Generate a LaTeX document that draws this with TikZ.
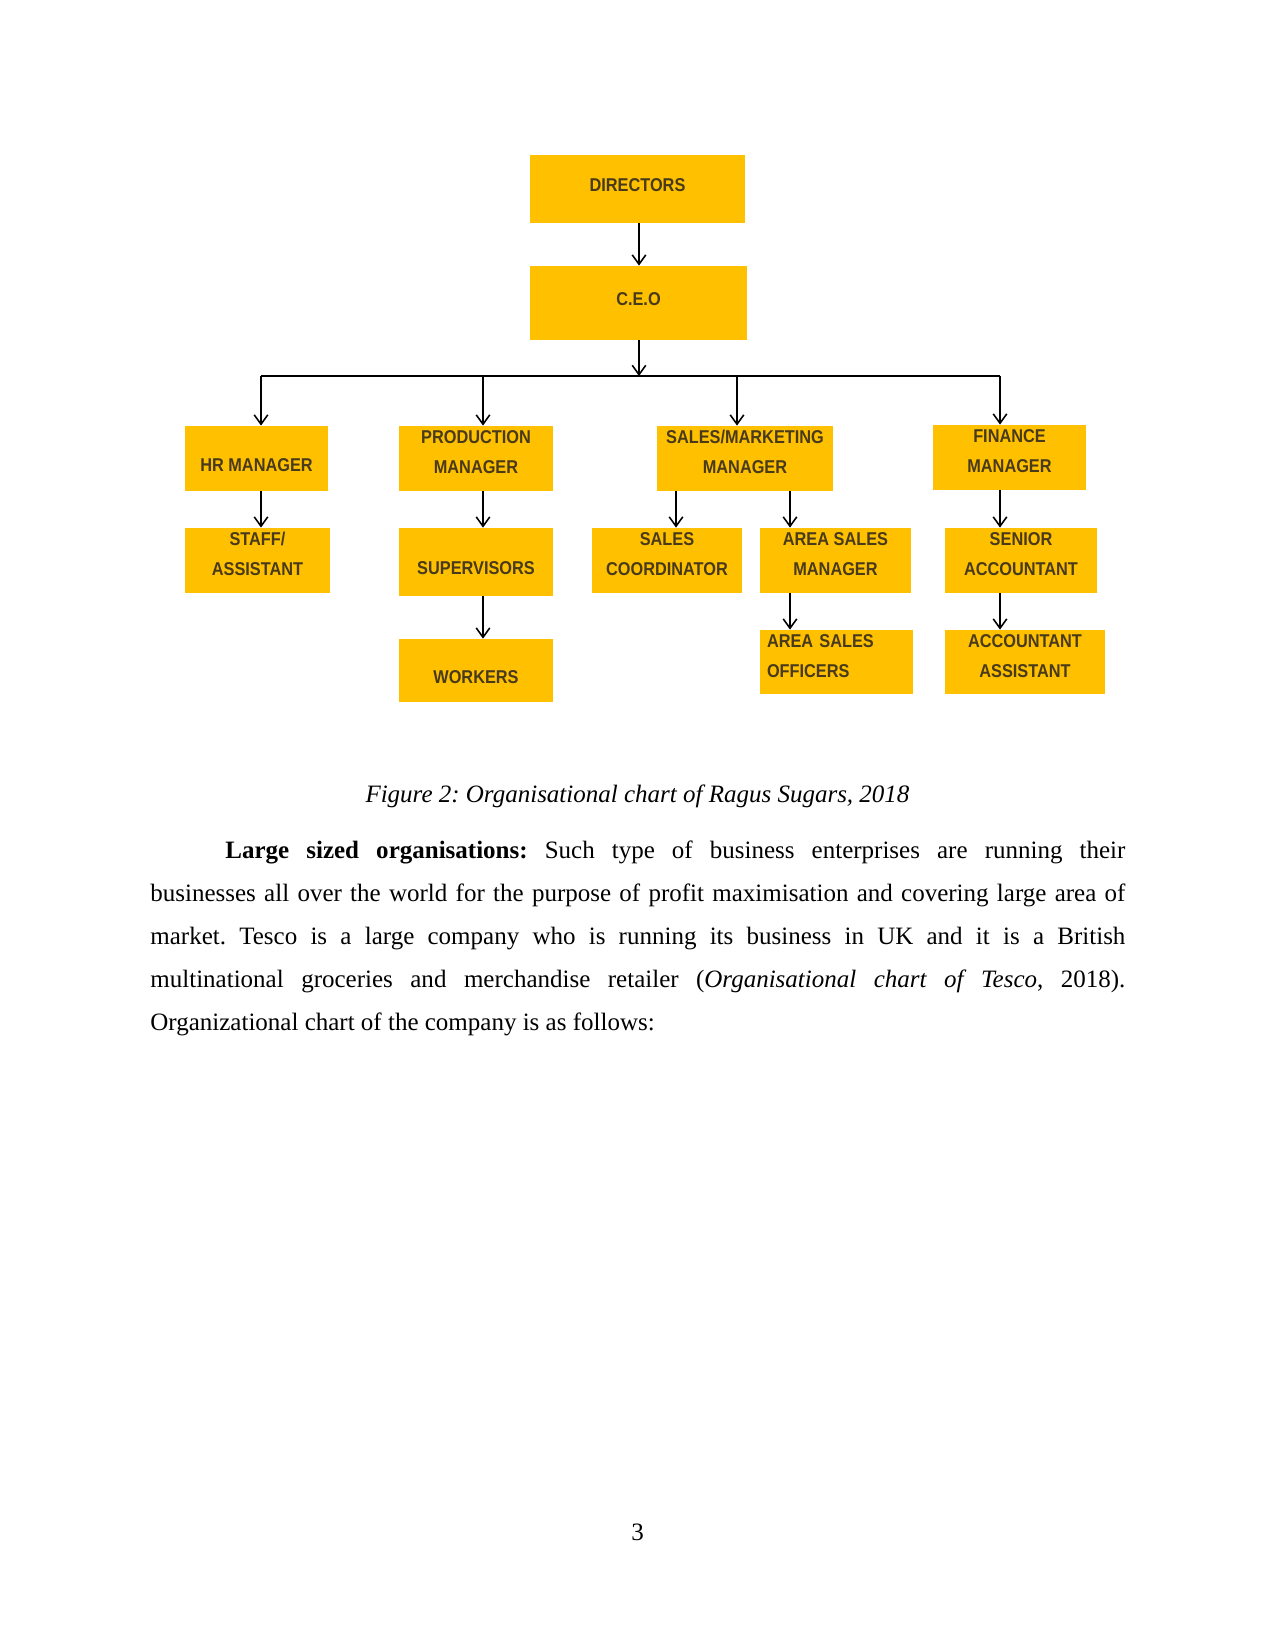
\documentclass[tikz,border=0pt]{standalone}
\usepackage{fontspec}
\setmainfont{Liberation Serif}
\newfontfamily\boxfont[FakeStretch=0.88]{Liberation Sans}
\usetikzlibrary{positioning, arrows.meta}
\definecolor{BoxYellow}{RGB}{255,192,0}
\definecolor{BoxText}{RGB}{72,58,26}
\frenchspacing

\begin{document}
\begin{tikzpicture}[x=0.48pt, y=-0.48pt,
    post/.style={fill=BoxYellow, text=BoxText, inner sep=0pt, align=center, text depth=6pt,
      font=\boxfont\bfseries\fontsize{8.9}{14.4}\selectfont},
    link/.style={line width=0.75pt},
    arr/.style={link, -{Straight Barb[length=4.5pt,width=6.5pt]}}]
    \useasboundingbox (0,0) rectangle (1275,1650);

    % Top of the chart
    \node[post, text depth=4pt, minimum width=103.2pt, minimum height=32.6pt] (dir) at (637.5,189) {DIRECTORS};
    \node[post, text depth=4pt, minimum width=104.2pt, minimum height=35.5pt] (ceo) at (638.5,303) {C.E.O};

    % Managers
    \node[post, text depth=2pt, minimum width=68.6pt, minimum height=31.2pt] (hr) at (256.5,458.5) {\\HR MANAGER};
    \node[post, minimum width=73.9pt, minimum height=31.2pt] (prod) at (476,458.5) {PRODUCTION\\MANAGER};
    \node[post, minimum width=84.5pt, minimum height=31.2pt] (sales) at (745,458.5) {SALES/MARKETING\\MANAGER};
    \node[post, minimum width=73.4pt, minimum height=31.2pt] (fin) at (1009.5,457.5) {FINANCE\\MANAGER};

    % Second row
    \node[post, minimum width=69.6pt, minimum height=31.2pt] (staff) at (257.5,560.5) {STAFF/\\ASSISTANT};
    \node[post, text depth=2pt, minimum width=73.9pt, minimum height=32.6pt] (sup) at (476,562) {\\SUPERVISORS};
    \node[post, minimum width=72pt, minimum height=31.2pt] (coord) at (667,560.5) {SALES\\COORDINATOR};
    \node[post, minimum width=72.5pt, minimum height=31.2pt] (asm) at (835.5,560.5) {AREA SALES\\MANAGER};
    \node[post, minimum width=73pt, minimum height=31.2pt] (senior) at (1021,560.5) {SENIOR\\ACCOUNTANT};

    % Third row
    \node[post, text depth=2pt, minimum width=73.9pt, minimum height=30.2pt] (work) at (476,670.5) {\\WORKERS};
    \node[post, align=left, text width=66.7pt, inner xsep=3.4pt, text depth=20.5pt, minimum height=30.7pt] (aso) at (836.5,662) {AREA SALES\\OFFICERS};
    \node[post, minimum width=76.8pt, minimum height=30.7pt] (acca) at (1025,662) {ACCOUNTANT\\ASSISTANT};

    % Columns of the connectors
    \coordinate (xHR) at (261,0);
    \coordinate (xPR) at (483,0);
    \coordinate (xTop) at (639,0);
    \coordinate (xSC) at (676,0);
    \coordinate (xSM) at (737,0);
    \coordinate (xSA) at (790,0);
    \coordinate (xFN) at (1000,0);
    \coordinate (bus) at (639,376);

    \draw[arr] (dir.south -| xTop) -- (ceo.north -| xTop);
    \draw[arr] (ceo.south -| xTop) -- (bus);
    \draw[link] (bus -| xHR) -- (bus -| xFN);
    \draw[arr] (bus -| xHR) -- (hr.north -| xHR);
    \draw[arr] (bus -| xPR) -- (prod.north -| xPR);
    \draw[arr] (bus -| xSM) -- (sales.north -| xSM);
    \draw[arr] (bus -| xFN) -- (fin.north -| xFN);

    \draw[arr] (hr.south -| xHR) -- (staff.north -| xHR);
    \draw[arr] (prod.south -| xPR) -- (sup.north -| xPR);
    \draw[arr] (sup.south -| xPR) -- (work.north -| xPR);
    \draw[arr] (sales.south -| xSC) -- (coord.north -| xSC);
    \draw[arr] (sales.south -| xSA) -- (asm.north -| xSA);
    \draw[arr] (asm.south -| xSA) -- (aso.north -| xSA);
    \draw[arr] (fin.south -| xFN) -- (senior.north -| xFN);
    \draw[arr] (senior.south -| xFN) -- (acca.north -| xFN);

    % Caption and text
    \node[anchor=base, font=\itshape\fontsize{12}{14}\selectfont] (cap) at (637.5,802)
      {Figure 2: Organisational chart of Ragus Sugars, 2018};
    \node[anchor=base west, inner sep=0pt, text width=468pt, align=justify,
      font=\fontsize{12}{20.64}\selectfont] (para) at (150,858)
      {\hspace*{36pt}\textbf{Large sized organisations:} Such type of business enterprises are running their\linebreak
       businesses all over the world for the purpose of profit maximisation and covering large area of\linebreak
       market. Tesco is a large company who is running its business in UK and it is a British\linebreak
       multinational groceries and merchandise retailer (\textit{Organisational chart of Tesco}, 2018).\linebreak
       Organizational chart of the company is as follows:};
    \node[anchor=base, font=\fontsize{12}{14}\selectfont] (pg) at (637.5,1540) {3};
\end{tikzpicture}
\end{document}
